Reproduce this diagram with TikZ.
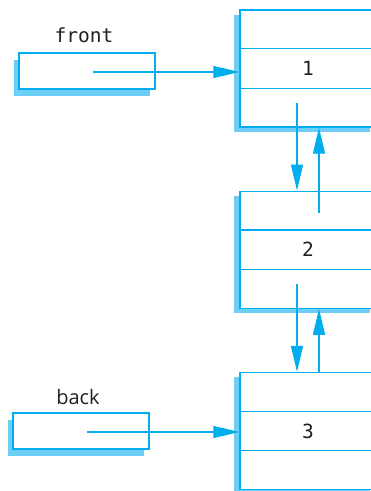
\documentclass[tikz,border=0pt]{standalone}
\usepackage{fontspec}
\setmonofont{DejaVu Sans Mono}
\setsansfont{Open Sans}
\usetikzlibrary{arrows.meta, positioning, shadows, calc}
\definecolor{lnk}{HTML}{00AEEF}
\definecolor{shd}{HTML}{6DCFF6}
\definecolor{ink}{HTML}{231F20}
\tikzset{
  lnode/.style ={rectangle, draw=lnk, fill=white, line width=1.2pt, minimum width=136pt, minimum height=117pt,
                 inner sep=0pt, text=ink, font=\ttfamily\fontsize{19.5pt}{22pt}\selectfont,
                 drop shadow={shadow xshift=-6pt, shadow yshift=-5pt, fill=shd, opacity=1}},
  pbox/.style  ={rectangle, draw=lnk, fill=white, line width=1.2pt, minimum width=136pt, minimum height=36pt,
                 drop shadow={shadow xshift=-5pt, shadow yshift=-7pt, fill=shd, opacity=1}},
  plbl/.style  ={inner sep=0pt, text=ink},
  cell/.style  ={draw=lnk, line width=1.2pt},
  ptr/.style   ={draw=lnk, line width=1.2pt, -{Triangle[length=26pt, width=12pt]}},
}
\begin{document}
\begin{tikzpicture}[x=1pt, y=-1pt]
  \useasboundingbox (0,0) rectangle (371,491);
  % list nodes
  \node[lnode] (n1) at (308,68.5) {1};
  \node[lnode, below=63pt of n1] (n2) {2};
  \node[lnode, below=63pt of n2] (n3) {3};
  \foreach \n in {n1,n2,n3}
    \foreach \f in {1/3,2/3}
      \draw[cell] ($(\n.north west)!\f!(\n.south west)$) -- ($(\n.north east)!\f!(\n.south east)$);
  % front and back pointers
  \node[pbox] (front) at (87,71) {};
  \node[plbl, anchor=south, font=\ttfamily\fontsize{19.5pt}{22pt}\selectfont] (frontlbl) at ([xshift=-3pt, yshift=9pt]front.north) {front};
  \node[pbox] (back) at (81,431) {};
  \node[plbl, anchor=south, font=\sffamily\fontsize{20pt}{22pt}\selectfont] (backlbl) at ([xshift=-3pt, yshift=8pt]back.north) {back};
  \coordinate (fs) at ([xshift=6pt, yshift=-1pt]front.center);
  \coordinate (bs) at ([xshift=6pt, yshift=-1pt]back.center);
  \draw[ptr] (fs) -- (fs -| n1.west);
  \draw[ptr] (bs) -- (bs -| n3.west);
  % next and prev links
  \draw[ptr] ([xshift=-11pt, yshift=25pt]n1.south) -- ([xshift=-11pt]n2.north);
  \draw[ptr] ([xshift=11pt, yshift=-22pt]n2.north) -- ([xshift=11pt]n1.south);
  \draw[ptr] ([xshift=-11pt, yshift=25pt]n2.south) -- ([xshift=-11pt]n3.north);
  \draw[ptr] ([xshift=11pt]n3.north) -- ([xshift=11pt]n2.south);
\end{tikzpicture}
\end{document}
